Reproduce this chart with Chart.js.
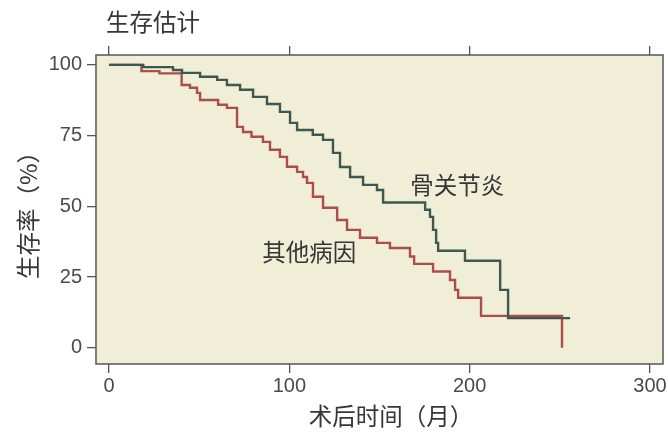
<!DOCTYPE html>
<html><head><meta charset="utf-8">
<script src="https://cdn.jsdelivr.net/npm/chart.js@4.4.1/dist/chart.umd.min.js"></script>
<style>html,body{margin:0;padding:0;background:#fff;}#wrap{width:668px;height:434px;}</style>
</head><body><div id="wrap"><canvas id="c" width="668" height="434"></canvas></div>
<script>
const chartTitle = '生存估计';
const xTitle = '术后时间（月）';
const yTitle = '生存率（%）';
const xTicks = [0, 100, 200, 300];
const yTicks = [0, 25, 50, 75, 100];

const oaName = '骨关节炎';
const oaTimes = [0, 19, 35.5, 40.5, 50.5, 60, 65.4, 72.7, 79.9, 87.6, 94.8, 100.4, 104.3, 113, 118.7, 124.2, 128.1, 133.7, 140.9, 148.6, 152, 175.3, 178, 179.7, 181.4, 182.5, 197.4, 216.9, 221.3, 255.7];
const oaSurv  = [100, 99.2, 98.2, 97.2, 95.8, 94.7, 92.9, 91.2, 88.7, 86.2, 83.4, 79.5, 77.0, 75.3, 73.5, 68.9, 63.9, 60.4, 57.6, 55.8, 51.4, 48.8, 46.3, 41.7, 37.1, 34.3, 30.8, 20.5, 10.5, 10.5];

const otherName = '其他病因';
const otherTimes = [0, 18, 28, 40.3, 44.9, 48.8, 50.5, 60.5, 65.4, 71, 74.3, 79, 85.4, 89.3, 94.8, 98.7, 104.3, 107.6, 109.8, 113.1, 118.7, 126.5, 132, 139.2, 148.6, 155.8, 166.9, 169.2, 179.7, 189.1, 191.9, 193.6, 206.3, 251.2];
const otherSurv  = [100, 97.8, 97.0, 92.9, 91.9, 90.1, 87.6, 85.9, 84.8, 78.1, 76.3, 74.6, 72.8, 70.0, 67.5, 64.0, 62.2, 60.4, 58.3, 53.4, 49.5, 45.2, 41.7, 38.9, 37.1, 35.3, 32.3, 29.7, 27.0, 24.0, 20.5, 17.7, 11.3, 0];

const oaLabelAt = [167, 57.6];
const otherLabelAt = [85, 34];

const toPts = (xs, ys) => xs.map((x, i) => ({x: x, y: ys[i]}));

const AX = '#555555';
const TXT = '#363636';
const CJK = '"Noto Sans CJK SC", "Noto Sans", sans-serif';
const LAT = '"Liberation Sans", Arial, sans-serif';

const deco = {
  id: 'deco',
  beforeDraw(chart) {
    const {ctx, chartArea: a} = chart;
    ctx.save();
    ctx.fillStyle = '#f1eed8';
    ctx.fillRect(a.left, a.top, a.right - a.left, a.bottom - a.top);
    ctx.restore();
  },
  afterDraw(chart) {
    const {ctx, chartArea: a, scales} = chart;
    ctx.save();
    ctx.strokeStyle = AX;
    ctx.lineWidth = 1.5;
    ctx.strokeRect(a.left, a.top, a.right - a.left, a.bottom - a.top);
    ctx.fillStyle = TXT;
    ctx.font = '23.5px ' + CJK;
    ctx.textBaseline = 'middle';
    ctx.textAlign = 'left';
    ctx.fillText(chartTitle, 106, 22);
    ctx.fillText(oaName, scales.x.getPixelForValue(oaLabelAt[0]), scales.y.getPixelForValue(oaLabelAt[1]));
    ctx.fillText(otherName, scales.x.getPixelForValue(otherLabelAt[0]), scales.y.getPixelForValue(otherLabelAt[1]));
    ctx.textAlign = 'center';
    ctx.fillText(xTitle, 391, 416);
    ctx.restore();
  }
};

const tickSet = arr => s => { s.ticks = arr.map(v => ({value: v})); };

new Chart(document.getElementById('c'), {
  type: 'line',
  data: {
    datasets: [
      {label: oaName, data: toPts(oaTimes, oaSurv), borderColor: '#3d5850', borderWidth: 2.4, pointRadius: 0, stepped: 'before', fill: false},
      {label: otherName, data: toPts(otherTimes, otherSurv), borderColor: '#ad4d49', borderWidth: 2.4, pointRadius: 0, stepped: 'before', fill: false}
    ]
  },
  options: {
    responsive: false,
    devicePixelRatio: 1,
    animation: false,
    layout: {padding: {top: 45, right: 5, left: 0, bottom: 0}},
    plugins: {legend: {display: false}, tooltip: {enabled: false}, title: {display: false}},
    scales: {
      x: {
        type: 'linear', position: 'bottom', min: -7.2, max: 307.2,
        afterBuildTicks: tickSet(xTicks),
        afterFit: s => { s.height = 70; },
        border: {display: false},
        grid: {drawOnChartArea: false, drawTicks: true, tickLength: 9, color: AX, lineWidth: 1.3},
        ticks: {color: '#4a4a4a', font: {family: LAT, size: 20}, padding: 1, maxRotation: 0}
      },
      x2: {
        type: 'linear', position: 'top', min: -7.2, max: 307.2,
        afterBuildTicks: tickSet(xTicks),
        afterFit: s => { s.height = 10; },
        border: {display: false},
        grid: {drawOnChartArea: false, drawTicks: true, tickLength: 9, color: AX, lineWidth: 1.3},
        ticks: {display: false}
      },
      y: {
        type: 'linear', position: 'left', min: -5.7, max: 103.5,
        afterBuildTicks: tickSet(yTicks),
        afterFit: s => { s.width = 96; },
        border: {display: false},
        grid: {drawOnChartArea: false, drawTicks: true, tickLength: 9, color: AX, lineWidth: 1.3},
        ticks: {color: '#4a4a4a', font: {family: LAT, size: 20}, padding: 5},
        title: {display: true, text: yTitle, color: TXT, font: {family: CJK, size: 23.5}, padding: {top: 14, bottom: 0}}
      }
    }
  },
  plugins: [deco]
});
</script></body></html>
